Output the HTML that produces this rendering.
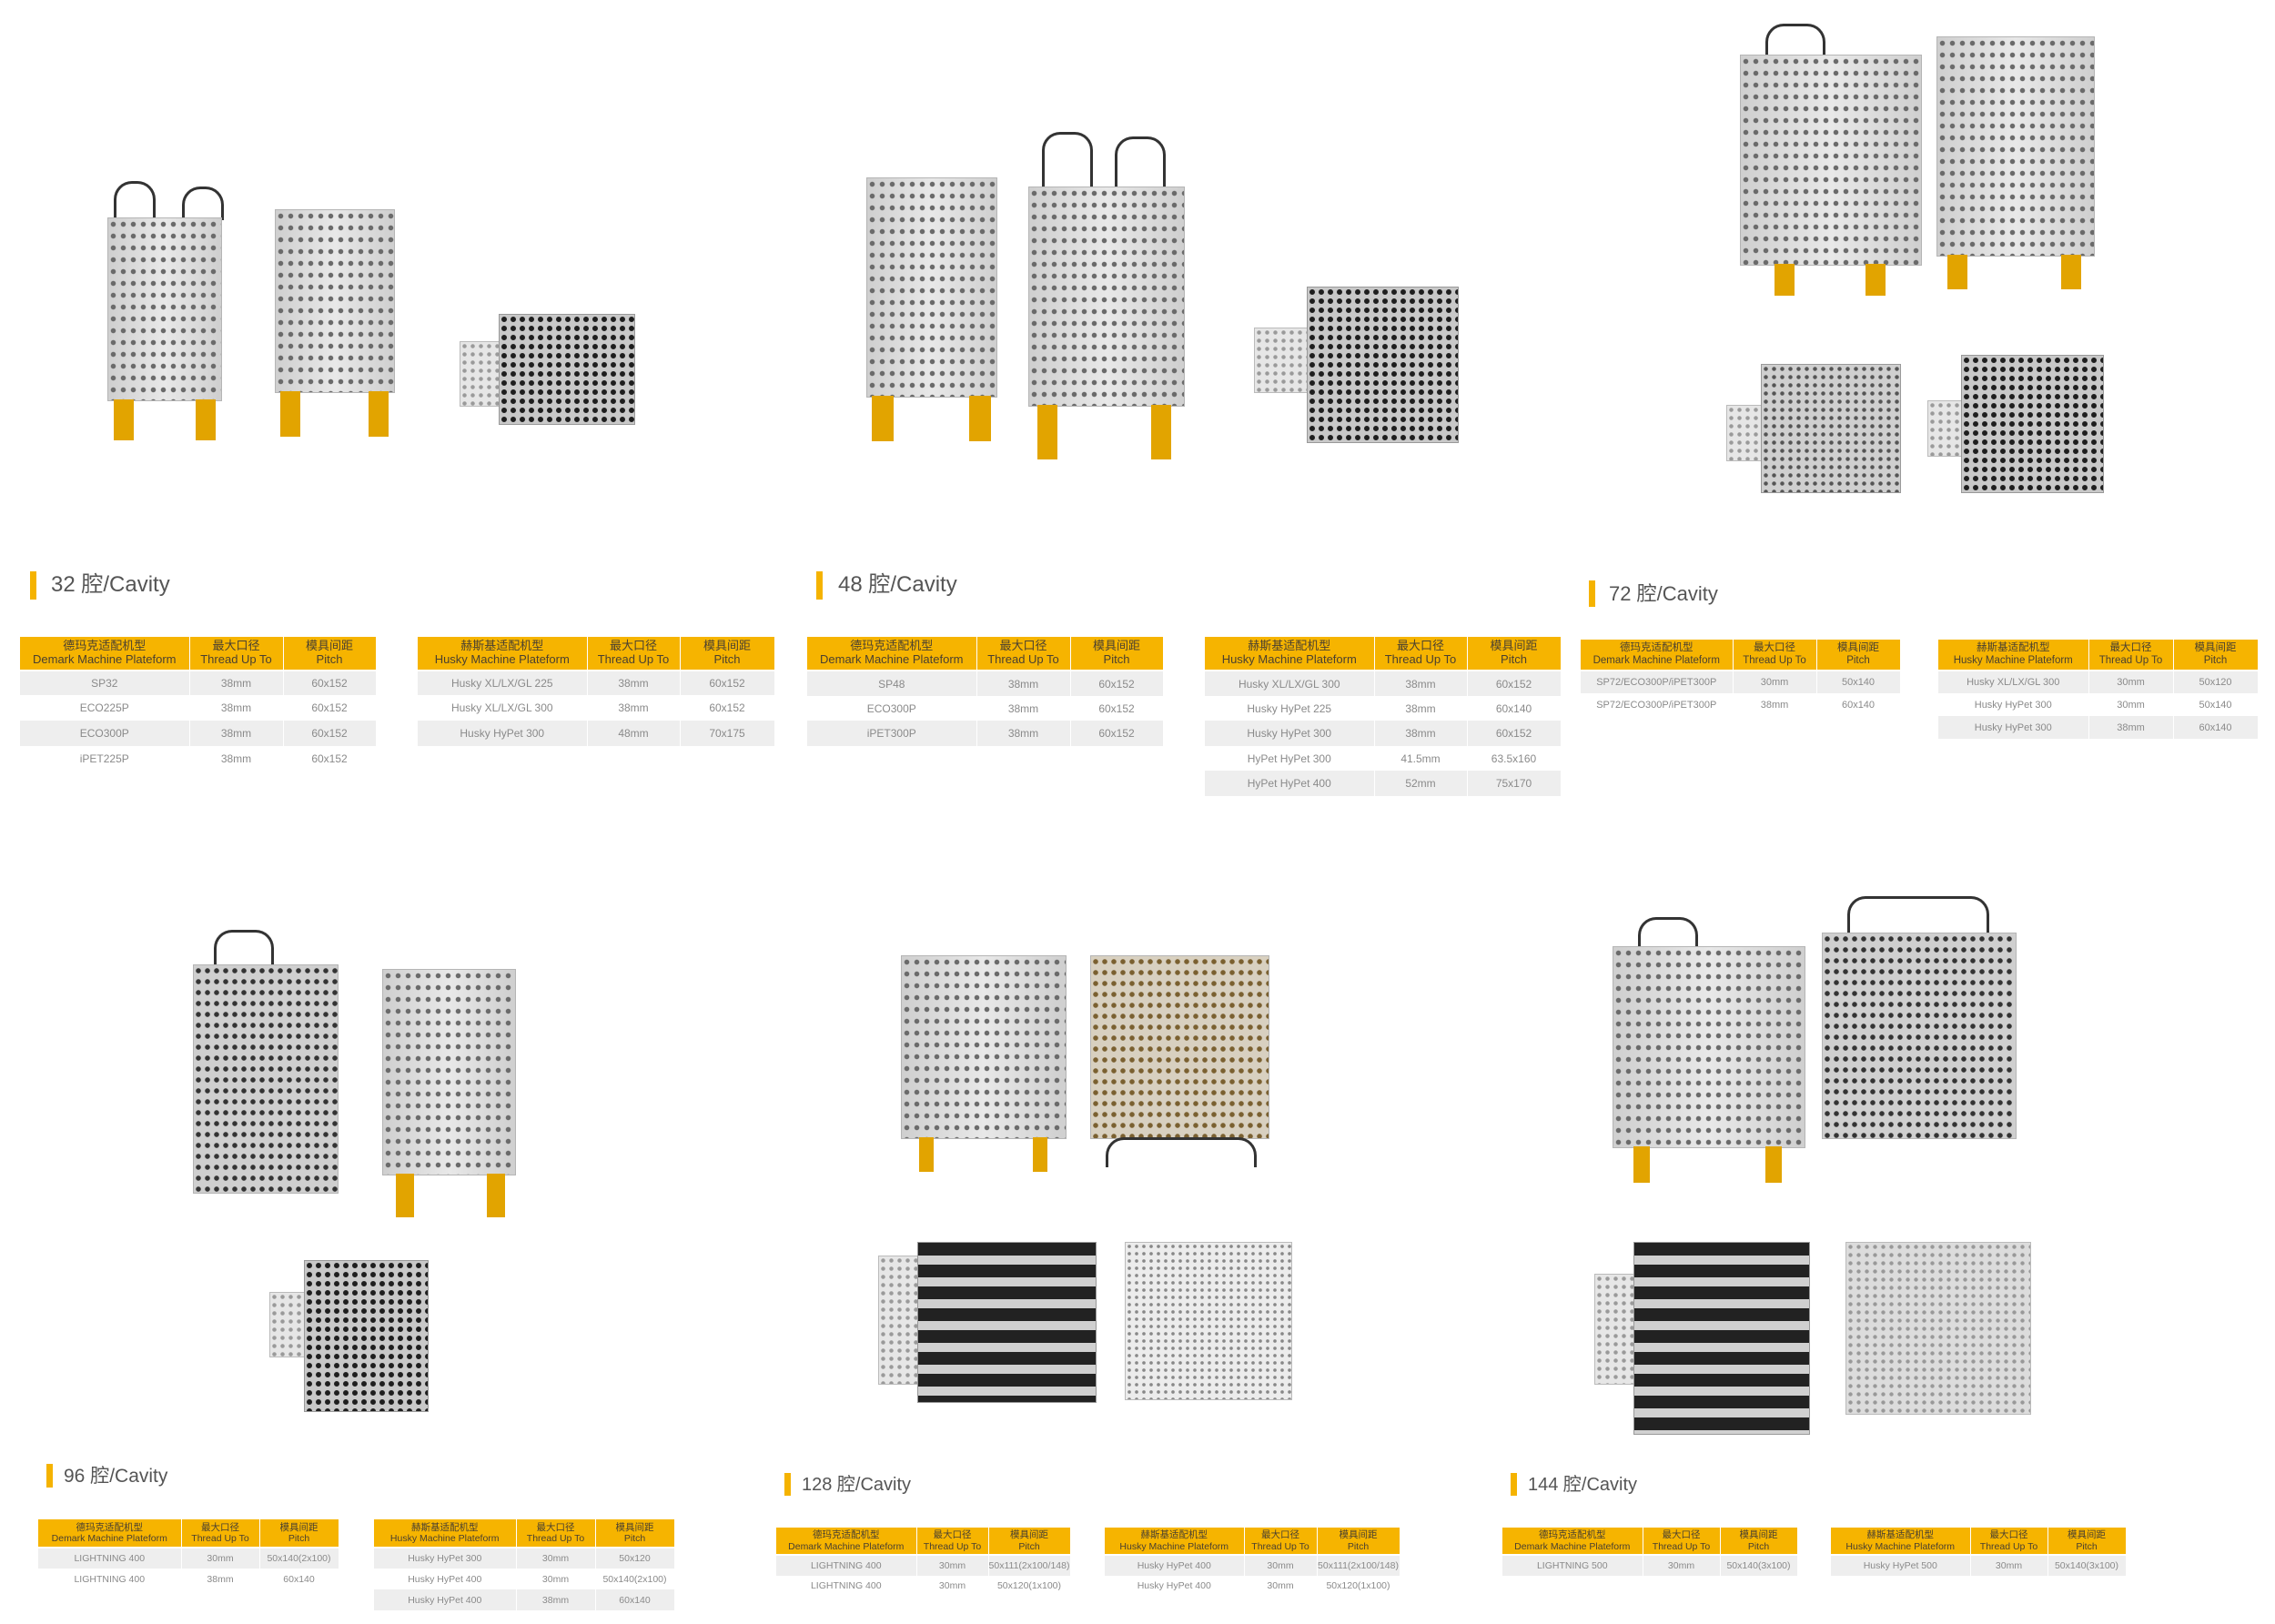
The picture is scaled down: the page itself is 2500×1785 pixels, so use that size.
<!DOCTYPE html>
<html><head><meta charset="utf-8">
<style>
html,body{margin:0;padding:0;background:#fff;}
body{width:2500px;height:1785px;position:relative;overflow:hidden;font-family:"Liberation Sans","Noto Sans CJK SC",sans-serif;}
.bar{position:absolute;background:#f5b300;width:7px;}
.ttl{position:absolute;color:#555;font-weight:normal;white-space:nowrap;line-height:1;}
.tb{position:absolute;border-collapse:collapse;table-layout:fixed;}
.tb td{padding:0;text-align:center;color:#8a8a8a;white-space:nowrap;overflow:hidden;border-right:1px solid #fff;}
.tb tr.h td{background:#f6b400;color:#4a4030;line-height:1.15;border-bottom:2px solid #fff;}
.tb tr.g td{background:#eeeeee;}
.m{position:absolute;border:1px solid #b5b5b5;background:radial-gradient(circle,#6a6a6a 28%,rgba(0,0,0,0) 36%) 0 0/11px 13px,linear-gradient(90deg,#cfcfcf,#e8e8e8,#cfcfcf);}
.p{position:absolute;border:1px solid #999;background:radial-gradient(circle,#1e1e1e 38%,rgba(0,0,0,0) 46%) 0 0/10px 10px,#c8c8c8;}
.pl{position:absolute;border:1px solid #bbb;background:radial-gradient(circle,#9a9a9a 30%,rgba(0,0,0,0) 40%) 0 0/9px 9px,#e6e6e6;}
.leg{position:absolute;background:#e2a400;}
.hose{position:absolute;border:3px solid #333;border-bottom:none;border-radius:20px 20px 0 0;}
</style></head><body>

<!-- ===== Images ===== -->
<!-- 32 -->
<div class="hose" style="left:125px;top:199px;width:40px;height:40px"></div>
<div class="hose" style="left:200px;top:205px;width:40px;height:34px"></div>
<div class="m" style="left:118px;top:239px;width:124px;height:200px"></div>
<div class="leg" style="left:125px;top:439px;width:22px;height:45px"></div>
<div class="leg" style="left:215px;top:439px;width:22px;height:45px"></div>
<div class="m" style="left:302px;top:230px;width:130px;height:200px"></div>
<div class="leg" style="left:308px;top:430px;width:22px;height:50px"></div>
<div class="leg" style="left:405px;top:430px;width:22px;height:50px"></div>
<div class="pl" style="left:505px;top:375px;width:45px;height:70px"></div>
<div class="p" style="left:548px;top:345px;width:148px;height:120px"></div>
<!-- 48 -->
<div class="m" style="left:952px;top:195px;width:142px;height:240px"></div>
<div class="leg" style="left:958px;top:435px;width:24px;height:50px"></div>
<div class="leg" style="left:1065px;top:435px;width:24px;height:50px"></div>
<div class="hose" style="left:1145px;top:145px;width:50px;height:60px"></div>
<div class="hose" style="left:1225px;top:150px;width:50px;height:55px"></div>
<div class="m" style="left:1130px;top:205px;width:170px;height:240px"></div>
<div class="leg" style="left:1140px;top:445px;width:22px;height:60px"></div>
<div class="leg" style="left:1265px;top:445px;width:22px;height:60px"></div>
<div class="pl" style="left:1378px;top:360px;width:60px;height:70px"></div>
<div class="p" style="left:1436px;top:315px;width:165px;height:170px"></div>
<!-- 72 -->
<div class="hose" style="left:1940px;top:26px;width:60px;height:40px"></div>
<div class="m" style="left:1912px;top:60px;width:198px;height:230px"></div>
<div class="leg" style="left:1950px;top:290px;width:22px;height:35px"></div>
<div class="leg" style="left:2050px;top:290px;width:22px;height:35px"></div>
<div class="m" style="left:2128px;top:40px;width:172px;height:240px"></div>
<div class="leg" style="left:2140px;top:280px;width:22px;height:38px"></div>
<div class="leg" style="left:2265px;top:280px;width:22px;height:38px"></div>
<div class="pl" style="left:1897px;top:445px;width:40px;height:60px"></div>
<div class="p" style="left:1935px;top:400px;width:152px;height:140px;background:radial-gradient(circle,#555 30%,rgba(0,0,0,0) 40%) 0 0/9px 9px,#cfcfcf"></div>
<div class="pl" style="left:2118px;top:440px;width:40px;height:60px"></div>
<div class="p" style="left:2155px;top:390px;width:155px;height:150px"></div>
<!-- 96 -->
<div class="hose" style="left:235px;top:1022px;width:60px;height:40px"></div>
<div class="m" style="left:212px;top:1060px;width:158px;height:250px;background:radial-gradient(circle,#333 30%,rgba(0,0,0,0) 40%) 0 0/10px 12px,#cfcfcf"></div>
<div class="m" style="left:420px;top:1065px;width:145px;height:225px"></div>
<div class="leg" style="left:435px;top:1290px;width:20px;height:48px"></div>
<div class="leg" style="left:535px;top:1290px;width:20px;height:48px"></div>
<div class="pl" style="left:296px;top:1420px;width:40px;height:70px"></div>
<div class="p" style="left:334px;top:1385px;width:135px;height:165px"></div>
<!-- 128 -->
<div class="m" style="left:990px;top:1050px;width:180px;height:200px"></div>
<div class="leg" style="left:1010px;top:1250px;width:16px;height:38px"></div>
<div class="leg" style="left:1135px;top:1250px;width:16px;height:38px"></div>
<div class="m" style="left:1198px;top:1050px;width:195px;height:200px;background:radial-gradient(circle,#7a6030 30%,rgba(0,0,0,0) 40%) 0 0/10px 12px,#d8d0c0"></div>
<div class="hose" style="left:1215px;top:1250px;width:160px;height:30px;border-width:3px"></div>
<div class="pl" style="left:965px;top:1380px;width:45px;height:140px"></div>
<div class="p" style="left:1008px;top:1365px;width:195px;height:175px;background:repeating-linear-gradient(180deg,#222 0 14px,#d0d0d0 14px 24px)"></div>
<div class="pl" style="left:1236px;top:1365px;width:182px;height:172px;background:radial-gradient(circle,#888 25%,rgba(0,0,0,0) 40%) 0 0/8px 8px,#ececec"></div>
<!-- 144 -->
<div class="hose" style="left:1800px;top:1008px;width:60px;height:40px"></div>
<div class="m" style="left:1772px;top:1040px;width:210px;height:220px"></div>
<div class="leg" style="left:1795px;top:1260px;width:18px;height:40px"></div>
<div class="leg" style="left:1940px;top:1260px;width:18px;height:40px"></div>
<div class="hose" style="left:2030px;top:985px;width:150px;height:45px"></div>
<div class="m" style="left:2002px;top:1025px;width:212px;height:225px;background:radial-gradient(circle,#333 30%,rgba(0,0,0,0) 40%) 0 0/10px 12px,#cfcfcf"></div>
<div class="pl" style="left:1752px;top:1400px;width:45px;height:120px"></div>
<div class="p" style="left:1795px;top:1365px;width:192px;height:210px;background:repeating-linear-gradient(180deg,#222 0 14px,#d0d0d0 14px 24px)"></div>
<div class="pl" style="left:2028px;top:1365px;width:202px;height:188px;background:radial-gradient(circle,#999 28%,rgba(0,0,0,0) 40%) 0 0/9px 9px,#dcdcdc"></div>

<!-- ===== Titles ===== -->
<div class="bar" style="left:33px;top:628px;height:31px"></div>
<div class="ttl" style="left:56px;top:631px;font-size:24px">32 腔/Cavity</div>
<div class="bar" style="left:897px;top:628px;height:31px"></div>
<div class="ttl" style="left:921px;top:631px;font-size:24px">48 腔/Cavity</div>
<div class="bar" style="left:1746px;top:638px;height:29px"></div>
<div class="ttl" style="left:1768px;top:642px;font-size:22px">72 腔/Cavity</div>
<div class="bar" style="left:51px;top:1609px;height:26px"></div>
<div class="ttl" style="left:70px;top:1612px;font-size:21px">96 腔/Cavity</div>
<div class="bar" style="left:862px;top:1619px;height:25px"></div>
<div class="ttl" style="left:881px;top:1622px;font-size:20px">128 腔/Cavity</div>
<div class="bar" style="left:1660px;top:1619px;height:25px"></div>
<div class="ttl" style="left:1679px;top:1622px;font-size:20px">144 腔/Cavity</div>

<!-- ===== Tables 32 ===== -->
<table class="tb" style="left:22px;top:700px;width:391px;font-size:12px">
<colgroup><col style="width:186px"><col style="width:103px"><col style="width:102px"></colgroup>
<tr class="h" style="height:37px;font-size:13px"><td>德玛克适配机型<br>Demark Machine Plateform</td><td>最大口径<br>Thread Up To</td><td>模具间距<br>Pitch</td></tr>
<tr class="g" style="height:27px"><td>SP32</td><td>38mm</td><td>60x152</td></tr>
<tr style="height:28px"><td>ECO225P</td><td>38mm</td><td>60x152</td></tr>
<tr class="g" style="height:28px"><td>ECO300P</td><td>38mm</td><td>60x152</td></tr>
<tr style="height:27px"><td>iPET225P</td><td>38mm</td><td>60x152</td></tr>
</table>
<table class="tb" style="left:459px;top:700px;width:392px;font-size:12px">
<colgroup><col style="width:186px"><col style="width:102px"><col style="width:104px"></colgroup>
<tr class="h" style="height:37px;font-size:13px"><td>赫斯基适配机型<br>Husky Machine Plateform</td><td>最大口径<br>Thread Up To</td><td>模具间距<br>Pitch</td></tr>
<tr class="g" style="height:27px"><td>Husky XL/LX/GL 225</td><td>38mm</td><td>60x152</td></tr>
<tr style="height:28px"><td>Husky XL/LX/GL 300</td><td>38mm</td><td>60x152</td></tr>
<tr class="g" style="height:28px"><td>Husky HyPet 300</td><td>48mm</td><td>70x175</td></tr>
</table>

<!-- ===== Tables 48 ===== -->
<table class="tb" style="left:887px;top:700px;width:391px;font-size:12px">
<colgroup><col style="width:186px"><col style="width:103px"><col style="width:102px"></colgroup>
<tr class="h" style="height:37px;font-size:13px"><td>德玛克适配机型<br>Demark Machine Plateform</td><td>最大口径<br>Thread Up To</td><td>模具间距<br>Pitch</td></tr>
<tr class="g" style="height:28px"><td>SP48</td><td>38mm</td><td>60x152</td></tr>
<tr style="height:27px"><td>ECO300P</td><td>38mm</td><td>60x152</td></tr>
<tr class="g" style="height:28px"><td>iPET300P</td><td>38mm</td><td>60x152</td></tr>
</table>
<table class="tb" style="left:1324px;top:700px;width:391px;font-size:12px">
<colgroup><col style="width:186px"><col style="width:102px"><col style="width:103px"></colgroup>
<tr class="h" style="height:37px;font-size:13px"><td>赫斯基适配机型<br>Husky Machine Plateform</td><td>最大口径<br>Thread Up To</td><td>模具间距<br>Pitch</td></tr>
<tr class="g" style="height:28px"><td>Husky XL/LX/GL 300</td><td>38mm</td><td>60x152</td></tr>
<tr style="height:27px"><td>Husky HyPet 225</td><td>38mm</td><td>60x140</td></tr>
<tr class="g" style="height:28px"><td>Husky HyPet 300</td><td>38mm</td><td>60x152</td></tr>
<tr style="height:27px"><td>HyPet HyPet 300</td><td>41.5mm</td><td>63.5x160</td></tr>
<tr class="g" style="height:28px"><td>HyPet HyPet 400</td><td>52mm</td><td>75x170</td></tr>
</table>

<!-- ===== Tables 72 ===== -->
<table class="tb" style="left:1737px;top:703px;width:351px;font-size:11px">
<colgroup><col style="width:167px"><col style="width:92px"><col style="width:92px"></colgroup>
<tr class="h" style="height:34px;font-size:11.5px"><td>德玛克适配机型<br>Demark Machine Plateform</td><td>最大口径<br>Thread Up To</td><td>模具间距<br>Pitch</td></tr>
<tr class="g" style="height:25px"><td>SP72/ECO300P/iPET300P</td><td>30mm</td><td>50x140</td></tr>
<tr style="height:25px"><td>SP72/ECO300P/iPET300P</td><td>38mm</td><td>60x140</td></tr>
</table>
<table class="tb" style="left:2130px;top:703px;width:351px;font-size:11px">
<colgroup><col style="width:165px"><col style="width:93px"><col style="width:93px"></colgroup>
<tr class="h" style="height:34px;font-size:11.5px"><td>赫斯基适配机型<br>Husky Machine Plateform</td><td>最大口径<br>Thread Up To</td><td>模具间距<br>Pitch</td></tr>
<tr class="g" style="height:25px"><td>Husky XL/LX/GL 300</td><td>30mm</td><td>50x120</td></tr>
<tr style="height:25px"><td>Husky HyPet 300</td><td>30mm</td><td>50x140</td></tr>
<tr class="g" style="height:25px"><td>Husky HyPet 300</td><td>38mm</td><td>60x140</td></tr>
</table>

<!-- ===== Tables 96 ===== -->
<table class="tb" style="left:42px;top:1670px;width:330px;font-size:10.5px">
<colgroup><col style="width:157px"><col style="width:86px"><col style="width:87px"></colgroup>
<tr class="h" style="height:31px;font-size:10.5px"><td>德玛克适配机型<br>Demark Machine Plateform</td><td>最大口径<br>Thread Up To</td><td>模具间距<br>Pitch</td></tr>
<tr class="g" style="height:23px"><td>LIGHTNING 400</td><td>30mm</td><td>50x140(2x100)</td></tr>
<tr style="height:23px"><td>LIGHTNING 400</td><td>38mm</td><td>60x140</td></tr>
</table>
<table class="tb" style="left:411px;top:1670px;width:330px;font-size:10.5px">
<colgroup><col style="width:156px"><col style="width:87px"><col style="width:87px"></colgroup>
<tr class="h" style="height:31px;font-size:10.5px"><td>赫斯基适配机型<br>Husky Machine Plateform</td><td>最大口径<br>Thread Up To</td><td>模具间距<br>Pitch</td></tr>
<tr class="g" style="height:23px"><td>Husky HyPet 300</td><td>30mm</td><td>50x120</td></tr>
<tr style="height:23px"><td>Husky HyPet 400</td><td>30mm</td><td>50x140(2x100)</td></tr>
<tr class="g" style="height:23px"><td>Husky HyPet 400</td><td>38mm</td><td>60x140</td></tr>
</table>

<!-- ===== Tables 128 ===== -->
<table class="tb" style="left:853px;top:1679px;width:323px;font-size:10.5px">
<colgroup><col style="width:154px"><col style="width:79px"><col style="width:90px"></colgroup>
<tr class="h" style="height:30px;font-size:10.5px"><td>德玛克适配机型<br>Demark Machine Plateform</td><td>最大口径<br>Thread Up To</td><td>模具间距<br>Pitch</td></tr>
<tr class="g" style="height:23px"><td>LIGHTNING 400</td><td>30mm</td><td>50x111(2x100/148)</td></tr>
<tr style="height:22px"><td>LIGHTNING 400</td><td>30mm</td><td>50x120(1x100)</td></tr>
</table>
<table class="tb" style="left:1214px;top:1679px;width:324px;font-size:10.5px">
<colgroup><col style="width:153px"><col style="width:80px"><col style="width:91px"></colgroup>
<tr class="h" style="height:30px;font-size:10.5px"><td>赫斯基适配机型<br>Husky Machine Plateform</td><td>最大口径<br>Thread Up To</td><td>模具间距<br>Pitch</td></tr>
<tr class="g" style="height:23px"><td>Husky HyPet 400</td><td>30mm</td><td>50x111(2x100/148)</td></tr>
<tr style="height:22px"><td>Husky HyPet 400</td><td>30mm</td><td>50x120(1x100)</td></tr>
</table>

<!-- ===== Tables 144 ===== -->
<table class="tb" style="left:1651px;top:1679px;width:324px;font-size:10.5px">
<colgroup><col style="width:154px"><col style="width:85px"><col style="width:85px"></colgroup>
<tr class="h" style="height:30px;font-size:10.5px"><td>德玛克适配机型<br>Demark Machine Plateform</td><td>最大口径<br>Thread Up To</td><td>模具间距<br>Pitch</td></tr>
<tr class="g" style="height:23px"><td>LIGHTNING 500</td><td>30mm</td><td>50x140(3x100)</td></tr>
</table>
<table class="tb" style="left:2012px;top:1679px;width:324px;font-size:10.5px">
<colgroup><col style="width:153px"><col style="width:85px"><col style="width:86px"></colgroup>
<tr class="h" style="height:30px;font-size:10.5px"><td>赫斯基适配机型<br>Husky Machine Plateform</td><td>最大口径<br>Thread Up To</td><td>模具间距<br>Pitch</td></tr>
<tr class="g" style="height:23px"><td>Husky HyPet 500</td><td>30mm</td><td>50x140(3x100)</td></tr>
</table>

</body></html>
